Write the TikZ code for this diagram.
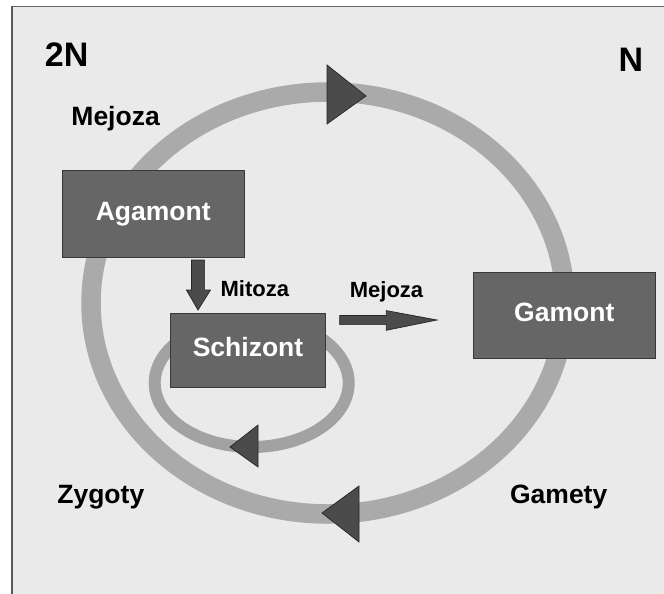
\documentclass[tikz,border=0pt]{standalone}
\usepackage{fontspec}
\setmainfont{Liberation Sans}
\definecolor{bgc}{HTML}{EAEAEA}
\definecolor{ringc}{HTML}{AAAAAA}
\definecolor{loopc}{HTML}{A2A2A2}
\definecolor{boxc}{HTML}{666666}
\definecolor{boxline}{HTML}{383838}
\definecolor{tric}{HTML}{4B4B4B}
\begin{document}
\begin{tikzpicture}[x=1pt,y=-1pt,
  stagebox/.style={draw=boxline, line width=0.9pt, fill=boxc, text=white,
    font=\fontsize{26.5}{30}\selectfont\bfseries, inner sep=0pt,
    text height=20pt, text depth=7pt},
  lbl/.style={anchor=base, inner sep=0pt, font=\fontsize{26.5}{30}\selectfont\bfseries},
  smalllbl/.style={anchor=base, inner sep=0pt, font=\fontsize{22}{26}\selectfont\bfseries},
  ploidy/.style={anchor=base, inner sep=0pt, font=\fontsize{34}{38}\selectfont\bfseries},
  headtri/.style={fill=tric, draw=black!85, line width=0.7pt, line join=miter},
  blockarrow/.style={fill=tric, draw=black!85, line width=0.7pt, line join=miter}]
\useasboundingbox (0,0) rectangle (664,594);
% background frame
\fill[bgc] (11,6) rectangle (664,594);
\draw[black!60, line width=1.2pt] (664,6.4) -- (11.6,6.4);
\draw[black!65, line width=2pt] (11.8,6.4) -- (11.8,594);
% outer cycle ring
\draw[ringc, line width=19.5pt] (328,303) ellipse [x radius=237pt, y radius=211pt];
% small loop
\draw[loopc, line width=12pt] (251.7,383) ellipse [x radius=97pt, y radius=64pt];
% ring arrowheads
\filldraw[headtri] (327,65) -- (366,96) -- (327,124) -- cycle;
\filldraw[headtri] (359,486) -- (322,513) -- (359,542) -- cycle;
\filldraw[headtri] (258,425) -- (230,447) -- (258,467) -- cycle;
% stage boxes
\node[stagebox, minimum width=181.7pt, minimum height=86.6pt] (agamont) at (153.2,214) {Agamont};
\node[stagebox, minimum width=155.4pt, minimum height=73.8pt] (schizont) at (248,350.2) {Schizont};
\node[stagebox, minimum width=182pt, minimum height=86.7pt] (gamont) at (564.3,315.3) {Gamont};
% Mitoza arrow (Agamont -> Schizont)
\filldraw[blockarrow] (191.4,260) -- (204.6,260) -- (204.6,290) -- (210.5,290) -- (198,310) -- (186.4,290) -- (191.4,290) -- cycle;
% Mejoza arrow (Schizont -> Gamont)
\filldraw[blockarrow] (339.7,315.5) -- (386.3,315.5) -- (386.3,310.6) -- (437,320) -- (386.3,330.3) -- (386.3,324.6) -- (339.7,324.6) -- cycle;
% labels
\node[ploidy] (twoN) at (66.7,66.3) {2N};
\node[ploidy] (oneN) at (631,72) {N};
\node[lbl] (mejozaTop) at (115.6,125) {Mejoza};
\node[smalllbl] (mitoza) at (254.8,296.2) {Mitoza};
\node[smalllbl] (mejozaMid) at (386.5,297.3) {Mejoza};
\node[lbl] (zygoty) at (100.8,503.8) {Zygoty};
\node[lbl] (gamety) at (558.7,503.8) {Gamety};
\end{tikzpicture}
\end{document}
